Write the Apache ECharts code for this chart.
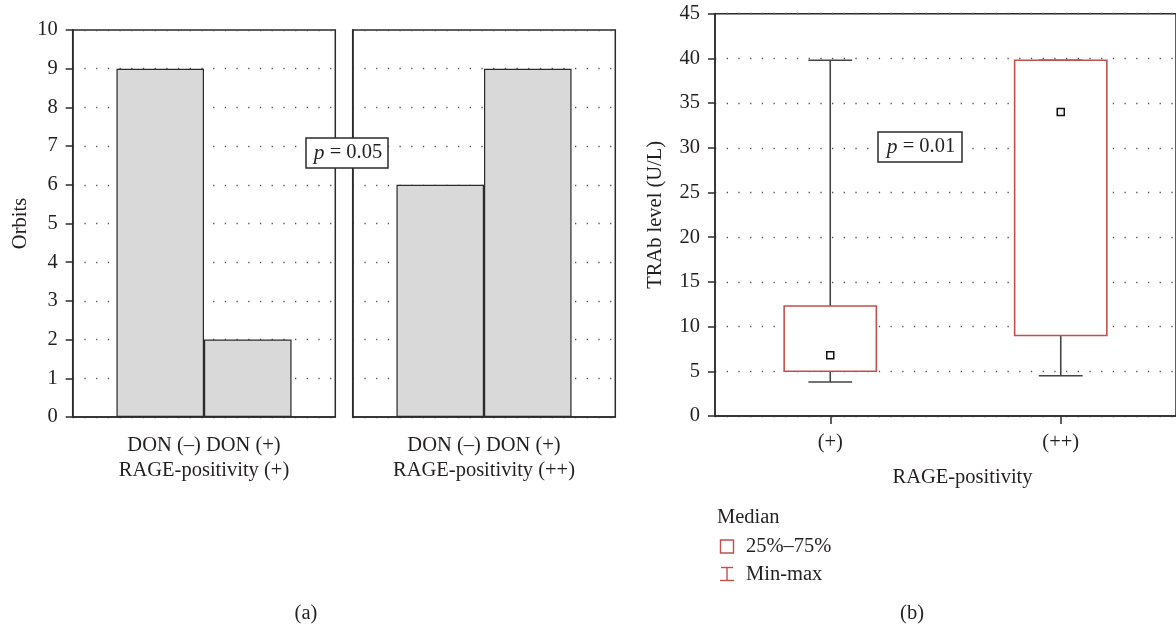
<!DOCTYPE html>
<html>
<head>
<meta charset="utf-8">
<script src="https://cdn.jsdelivr.net/npm/echarts@6/dist/echarts.min.js"></script>
<style>
html,body{margin:0;padding:0;background:#fff;}
#c{width:1176px;height:629px;}
</style>
</head>
<body>
<div id="c"></div>
<script>
// ---- Data (a): orbits by DON status within RAGE-positivity groups ----
const donLabels = ['DON (–)', 'DON (+)'];
const rageGroups = ['RAGE-positivity (+)', 'RAGE-positivity (++)'];
const donNeg = [9, 6];
const donPos = [2, 9];
const orbitTicks = [0, 10, 1]; // min, max, interval

// ---- Data (b): TRAb level by RAGE-positivity ----
const boxCats = ['(+)', '(++)'];
const trabMin = [3.8, 4.5];
const trabQ1 = [5.0, 9.0];
const trabMedian = [6.8, 34.0];
const trabQ3 = [12.3, 39.8];
const trabMax = [39.8, 39.8];
const trabTicks = [0, 45, 5];

const pLeft = 'p = 0.05';
const pRight = 'p = 0.01';
const legendItems = ['Median', '25%–75%', 'Min-max'];

const FONT = "'Liberation Serif', 'DejaVu Serif', serif";
const FS = 20.5;
const TXT = '#231f20';
const AX = '#2b2b2b';
const RED = '#c0504d';

const chart = echarts.init(document.getElementById('c'), null, {renderer: 'canvas'});

const dotted = {show: true, lineStyle: {color: '#555', width: 1.3, type: [1.3, 10.4]}};

function leftYAxis(idx, showLabels) {
  return {
    type: 'value', gridIndex: idx, min: orbitTicks[0], max: orbitTicks[1], interval: orbitTicks[2],
    name: showLabels ? 'Orbits' : '', nameLocation: 'middle', nameGap: 42,
    nameTextStyle: {fontFamily: FONT, fontSize: FS, color: TXT},
    axisLine: {show: true, lineStyle: {color: AX, width: 1.5}},
    axisTick: {show: showLabels, length: 7, lineStyle: {color: AX, width: 1.5}},
    axisLabel: {show: showLabels, margin: 15, fontFamily: FONT, fontSize: FS, color: TXT},
    splitLine: dotted
  };
}
function leftXAxis(idx) {
  return {
    type: 'category', gridIndex: idx, data: [rageGroups[idx]],
    axisLine: {show: true, lineStyle: {color: AX, width: 1.5}},
    axisTick: {show: false},
    axisLabel: {
      margin: 16.5, fontFamily: FONT, fontSize: FS, color: TXT, lineHeight: 25,
      formatter: v => donLabels.join(' ') + '\n' + v
    },
    splitLine: {show: false}
  };
}

const gridBorder = {show: true, borderColor: AX, borderWidth: 1.5, backgroundColor: 'transparent'};

const boxData = boxCats.map((c, i) => [i, trabMin[i], trabQ1[i], trabMedian[i], trabQ3[i], trabMax[i]]);

function renderBox(params, api) {
  const x = api.value(0);
  const band = api.size([1, 0])[0];
  const bw = band * 0.4;
  const cw = band * 0.19;
  const pMin = api.coord([x, api.value(1)]);
  const pQ1 = api.coord([x, api.value(2)]);
  const pMed = api.coord([x, api.value(3)]);
  const pQ3 = api.coord([x, api.value(4)]);
  const pMax = api.coord([x, api.value(5)]);
  const cx = pMin[0];
  const wStyle = {stroke: '#444', lineWidth: 1.6};
  return {
    type: 'group',
    children: [
      {type: 'line', shape: {x1: cx, y1: pQ3[1], x2: cx, y2: pMax[1]}, style: wStyle},
      {type: 'line', shape: {x1: cx - cw / 2, y1: pMax[1], x2: cx + cw / 2, y2: pMax[1]}, style: wStyle},
      {type: 'line', shape: {x1: cx, y1: pQ1[1], x2: cx, y2: pMin[1]}, style: wStyle},
      {type: 'line', shape: {x1: cx - cw / 2, y1: pMin[1], x2: cx + cw / 2, y2: pMin[1]}, style: wStyle},
      {type: 'rect', shape: {x: cx - bw / 2, y: pQ3[1], width: bw, height: pQ1[1] - pQ3[1]},
        style: {fill: '#fff', stroke: RED, lineWidth: 1.6}},
      {type: 'rect', shape: {x: cx - 3.5, y: pMed[1] - 3.5, width: 7, height: 7},
        style: {fill: '#fff', stroke: '#111', lineWidth: 1.5}}
    ]
  };
}

function pBox(cx, cy, w, h, text) {
  const parts = text.split(' ');
  return {
    type: 'group', x: cx - w / 2, y: cy - h / 2,
    children: [
      {type: 'rect', z: 100, shape: {x: 0, y: 0, width: w, height: h},
        style: {fill: '#fff', stroke: AX, lineWidth: 1.5}},
      {type: 'text', z: 101, x: w / 2 + 1, y: h / 2,
        style: {
          text: '{i|' + parts[0] + '} ' + parts.slice(1).join(' '),
          align: 'center', verticalAlign: 'middle',
          font: FS + 'px ' + FONT, fill: TXT,
          rich: {i: {fontStyle: 'italic', fontFamily: FONT, fontSize: FS + 1, fill: TXT}}
        }}
    ]
  };
}

function txt(x, y, s, align) {
  return {type: 'text', x: x, y: y, z: 100,
    style: {text: s, font: FS + 'px ' + FONT, fill: TXT, align: align || 'left', verticalAlign: 'middle'}};
}

const option = {
  animation: false,
  backgroundColor: '#fff',
  grid: [
    Object.assign({left: 72.7, top: 30, width: 262.6, height: 387}, gridBorder),
    Object.assign({left: 352.7, top: 30, width: 262.6, height: 387}, gridBorder),
    Object.assign({left: 715, top: 13.7, width: 463, height: 402.3}, gridBorder)
  ],
  xAxis: [
    leftXAxis(0),
    leftXAxis(1),
    {
      type: 'category', gridIndex: 2, data: boxCats,
      name: 'RAGE-positivity', nameLocation: 'middle', nameGap: 51.5,
      nameTextStyle: {fontFamily: FONT, fontSize: FS, color: TXT, padding: [0, 0, 0, 34]},
      axisLine: {show: true, lineStyle: {color: AX, width: 1.5}},
      axisTick: {show: true, alignWithLabel: true, length: 8, lineStyle: {color: AX, width: 1.5}},
      axisLabel: {margin: 16.5, fontFamily: FONT, fontSize: FS, color: TXT},
      splitLine: {show: false}
    }
  ],
  yAxis: [
    leftYAxis(0, true),
    leftYAxis(1, false),
    {
      type: 'value', gridIndex: 2, min: trabTicks[0], max: trabTicks[1], interval: trabTicks[2],
      name: 'TRAb level (U/L)', nameLocation: 'middle', nameGap: 48.5,
      nameTextStyle: {fontFamily: FONT, fontSize: FS, color: TXT},
      axisLine: {show: true, lineStyle: {color: AX, width: 1.5}},
      axisTick: {show: true, length: 7, lineStyle: {color: AX, width: 1.5}},
      axisLabel: {margin: 15, fontFamily: FONT, fontSize: FS, color: TXT},
      splitLine: dotted
    }
  ],
  series: [
    {type: 'bar', name: donLabels[0], xAxisIndex: 0, yAxisIndex: 0, data: [donNeg[0]],
      barGap: '0%', barCategoryGap: '33.33%',
      itemStyle: {color: '#d9d9d9', borderColor: AX, borderWidth: 1.2}},
    {type: 'bar', name: donLabels[1], xAxisIndex: 0, yAxisIndex: 0, data: [donPos[0]],
      barGap: '0%', barCategoryGap: '33.33%',
      itemStyle: {color: '#d9d9d9', borderColor: AX, borderWidth: 1.2}},
    {type: 'bar', name: donLabels[0], xAxisIndex: 1, yAxisIndex: 1, data: [donNeg[1]],
      barGap: '0%', barCategoryGap: '33.33%',
      itemStyle: {color: '#d9d9d9', borderColor: AX, borderWidth: 1.2}},
    {type: 'bar', name: donLabels[1], xAxisIndex: 1, yAxisIndex: 1, data: [donPos[1]],
      barGap: '0%', barCategoryGap: '33.33%',
      itemStyle: {color: '#d9d9d9', borderColor: AX, borderWidth: 1.2}},
    {type: 'custom', xAxisIndex: 2, yAxisIndex: 2, data: boxData, renderItem: renderBox,
      encode: {x: 0, y: [1, 2, 3, 4, 5]}, z: 5}
  ],
  graphic: [
    pBox(347, 153, 82, 30, pLeft),
    pBox(920, 147, 84, 30, pRight),
    txt(717, 518, legendItems[0]),
    {type: 'rect', z: 100, shape: {x: 720.5, y: 540, width: 13, height: 13}, style: {fill: '#fff', stroke: RED, lineWidth: 1.4}},
    txt(746, 547, legendItems[1]),
    {type: 'line', z: 100, shape: {x1: 721, y1: 567.5, x2: 733, y2: 567.5}, style: {stroke: RED, lineWidth: 1.4}},
    {type: 'line', z: 100, shape: {x1: 727, y1: 567.5, x2: 727, y2: 580.5}, style: {stroke: RED, lineWidth: 1.4}},
    {type: 'line', z: 100, shape: {x1: 720, y1: 580.5, x2: 734, y2: 580.5}, style: {stroke: RED, lineWidth: 1.4}},
    txt(746, 575, legendItems[2]),
    txt(306, 614, '(a)', 'center'),
    txt(912, 614, '(b)', 'center')
  ]
};
chart.setOption(option);
</script>
</body>
</html>
